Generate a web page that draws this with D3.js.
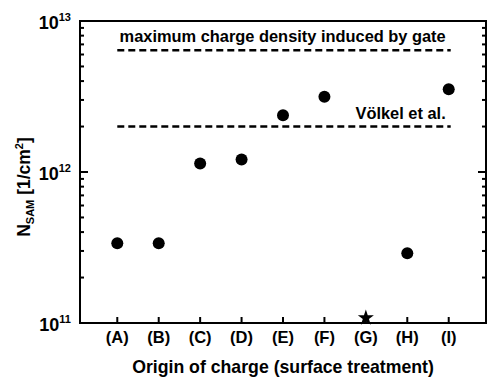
<!DOCTYPE html>
<html>
<head>
<meta charset="utf-8">
<style>
    body { margin: 0; background: #fff; }
    svg text {
        font-family: "Liberation Sans", Arial, sans-serif;
        font-weight: bold;
        fill: #000;
    }
</style>
<script src="https://d3js.org/d3.v7.min.js"></script>
</head>
<body>
<svg id="chart"></svg>
<script>
    // data
    const categories = ['(A)', '(B)', '(C)', '(D)', '(E)', '(F)', '(G)', '(H)', '(I)'];
    const densities = [3.37e11, 3.37e11, 1.14e12, 1.21e12, 2.38e12, 3.15e12, null, 2.9e11, 3.53e12];
    const starCategories = ['(G)'];
    const starValues = [1.08e11];
    const refLabels = ['maximum charge density induced by gate', 'Völkel et al.'];
    const refValues = [6.4e12, 2e12];
    const majorTicks = [1e11, 1e12, 1e13];
    const tickExponents = ['11', '12', '13'];

    const width = 487, height = 379;
    const margin = { top: 21, right: 1, bottom: 56, left: 80 };

    const svg = d3.select('#chart')
        .attr('width', width)
        .attr('height', height);

    const x = d3.scalePoint()
        .domain(categories)
        .range([margin.left, width - margin.right])
        .padding(0.9);

    const y = d3.scaleLog()
        .domain([1e11, 1e13])
        .range([height - margin.bottom, margin.top]);

    const minorTicks = [];
    [1e11, 1e12].forEach(d => { for (let k = 2; k <= 9; k++) minorTicks.push(d * k); });

    const g = svg.append('g');

    // tick marks pointing into the frame, left and right
    const xL = margin.left, xR = width - margin.right;
    const yB = height - margin.bottom, yT = margin.top;

    g.selectAll('line.major')
        .data(majorTicks.flatMap(v => [[xL, xL + 8, v], [xR, xR - 8, v]]))
        .join('line')
        .attr('x1', d => d[0]).attr('x2', d => d[1])
        .attr('y1', d => y(d[2])).attr('y2', d => y(d[2]))
        .attr('stroke', '#000').attr('stroke-width', 2);

    g.selectAll('line.minor')
        .data(minorTicks.flatMap(v => [[xL, xL + 4, v], [xR, xR - 4, v]]))
        .join('line')
        .attr('x1', d => d[0]).attr('x2', d => d[1])
        .attr('y1', d => y(d[2])).attr('y2', d => y(d[2]))
        .attr('stroke', '#000').attr('stroke-width', 2);

    g.selectAll('line.xtick')
        .data(categories)
        .join('line')
        .attr('x1', d => x(d)).attr('x2', d => x(d))
        .attr('y1', yB).attr('y2', yB - 6)
        .attr('stroke', '#000').attr('stroke-width', 2);

    // frame
    g.append('rect')
        .attr('x', xL).attr('y', yT)
        .attr('width', xR - xL).attr('height', yB - yT)
        .attr('fill', 'none').attr('stroke', '#000').attr('stroke-width', 2);

    // y tick labels 10^n
    const ylab = g.selectAll('text.ylab')
        .data(majorTicks)
        .join('text')
        .attr('text-anchor', 'end')
        .attr('x', xL - 9)
        .attr('y', d => y(d) + 8)
        .style('font-size', '18px');
    ylab.append('tspan').text('10');
    ylab.append('tspan')
        .attr('dy', -8)
        .style('font-size', '11px')
        .text((d, i) => tickExponents[i]);

    // category labels
    g.selectAll('text.xlab')
        .data(categories)
        .join('text')
        .attr('text-anchor', 'middle')
        .attr('x', d => x(d))
        .attr('y', yB + 20)
        .style('font-size', '16.5px')
        .text(d => d);

    // reference lines
    refValues.forEach((v, i) => {
        g.append('line')
            .attr('x1', x(categories[0])).attr('x2', x(categories[categories.length - 1]) + 2)
            .attr('y1', y(v)).attr('y2', y(v))
            .attr('stroke', '#000').attr('stroke-width', 2.5)
            .attr('stroke-dasharray', '7,4');
        g.append('text')
            .attr('text-anchor', 'end')
            .attr('x', x(categories[categories.length - 1]) - 3)
            .attr('y', y(v) - 8)
            .style('font-size', '16.4px')
            .text(refLabels[i]);
    });

    // data points
    g.selectAll('circle.pt')
        .data(categories.map((c, i) => [c, densities[i]]).filter(d => d[1] != null))
        .join('circle')
        .attr('cx', d => x(d[0]))
        .attr('cy', d => y(d[1]))
        .attr('r', 6)
        .attr('fill', '#000');

    g.selectAll('path.star')
        .data(starCategories.map((c, i) => [c, starValues[i]]))
        .join('path')
        .attr('transform', d => `translate(${x(d[0])},${y(d[1])})`)
        .attr('d', d3.symbol(d3.symbolStar, 80))
        .attr('fill', '#000');

    // axis titles
    g.append('text')
        .attr('text-anchor', 'middle')
        .attr('x', (xL + xR) / 2)
        .attr('y', height - 6)
        .style('font-size', '17.7px')
        .text('Origin of charge (surface treatment)');

    const yt = g.append('text')
        .attr('text-anchor', 'middle')
        .attr('transform', `translate(30,${(yT + yB) / 2 + 15}) rotate(-90)`)
        .style('font-size', '17.5px');
    yt.append('tspan').text('N');
    yt.append('tspan').attr('dy', 4).style('font-size', '11px').text('SAM');
    yt.append('tspan').attr('dy', -4).text(' [1/cm');
    yt.append('tspan').attr('dy', -7).style('font-size', '11px').text('2');
    yt.append('tspan').attr('dy', 7).text(']');
</script>
</body>
</html>
